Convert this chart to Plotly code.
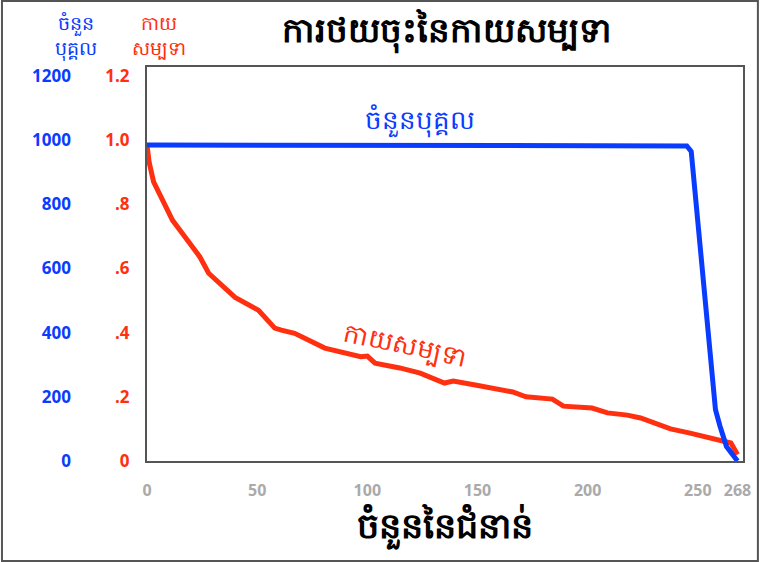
import plotly.graph_objects as go

# Data
pop_gen = [0, 242, 245, 247, 258, 260, 263, 268]
population = [985, 985, 982, 965, 160, 110, 45, 0]

fit_gen = [0, 1, 3, 7, 11.6, 16, 24, 28, 33, 40, 50.6, 56, 58, 61, 67, 80.7, 94, 97, 100, 103.5,
           114.7, 124, 135, 139, 149, 160, 166, 172, 184, 189, 202, 209, 218, 224, 237.6,
           246.5, 252, 258, 265, 268]
fitness = [0.985, 0.93, 0.87, 0.813, 0.75, 0.71, 0.636, 0.585, 0.555, 0.51, 0.47, 0.43, 0.414,
           0.408, 0.398, 0.352, 0.333, 0.325, 0.327, 0.305, 0.29, 0.274, 0.243, 0.249, 0.237,
           0.224, 0.215, 0.2, 0.193, 0.171, 0.165, 0.15, 0.143, 0.134, 0.1, 0.087, 0.078,
           0.065, 0.056, 0.02]

x_ticks = [0, 50, 100, 150, 200, 250, 268]
fit_ticks = [0, 0.2, 0.4, 0.6, 0.8, 1.0, 1.2]
fit_ticktext = ["0", ".2", ".4", ".6", ".8", "1.0", "1.2"]
pop_ticks = [0, 200, 400, 600, 800, 1000, 1200]

title = "ការថយចុះនៃកាយសម្បទា"
x_title = "ចំនួននៃជំនាន់"
pop_label = "ចំនួនបុគ្គល"
fit_label = "កាយសម្បទា"

BLUE = "#0a3cff"
RED = "#ff3010"
FONT = "Open Sans, Noto Sans, DejaVu Sans, sans-serif"

W, H = 763, 562
L, R, T, B = 147, 16, 67, 101
pw, ph = W - L - R, H - T - B

fig = go.Figure()
fig.add_trace(go.Scatter(x=fit_gen, y=fitness, mode="lines", line=dict(color=RED, width=5),
                         yaxis="y", showlegend=False, hoverinfo="skip"))
fig.add_trace(go.Scatter(x=pop_gen, y=population, mode="lines", line=dict(color=BLUE, width=5),
                         yaxis="y2", showlegend=False, hoverinfo="skip"))

fig.update_layout(
    width=W, height=H,
    margin=dict(l=L, r=R, t=T, b=B),
    paper_bgcolor="white", plot_bgcolor="white",
    font=dict(family=FONT),
    title=dict(text="<b>" + title + "</b>", x=447 / W, xanchor="center", y=1 - 30 / H,
               yanchor="middle", font=dict(size=34, color="black")),
    xaxis=dict(range=[0, 270.5], tickvals=x_ticks, showgrid=False, zeroline=False,
               showline=True, mirror=True, linecolor="#555", linewidth=2,
               ticks="", ticklabelstandoff=14,
               tickfont=dict(size=16, color="#aaaaaa", family=FONT, weight="bold"),
               title=dict(text="<b>" + x_title + "</b>", font=dict(size=35, color="black"),
                          standoff=2)),
    yaxis=dict(range=[0, 1.228], tickvals=fit_ticks, ticktext=fit_ticktext, showgrid=False,
               zeroline=False, showline=True, mirror=True, linecolor="#555", linewidth=2,
               ticks="", ticklabelstandoff=12,
               tickfont=dict(size=17, color=RED, family=FONT, weight="bold")),
    yaxis2=dict(range=[0, 1228], tickvals=pop_ticks, overlaying="y", side="left", anchor="x",
                showgrid=False, zeroline=False, showline=False, ticks="",
                ticklabelstandoff=75,
                tickfont=dict(size=17, color=BLUE, family=FONT, weight="bold")),
)

def px(xp):
    return (xp - L) / pw

def py(yp):
    return (H - B - yp) / ph

fig.add_annotation(x=px(52), y=py(8), xref="paper", yref="paper", showarrow=False,
                   text="ចំនួន<br>បុគ្គល", font=dict(size=19, color=BLUE), align="center")
fig.add_annotation(x=px(130), y=py(8), xref="paper", yref="paper", showarrow=False,
                   text="កាយ<br>សម្បទា", font=dict(size=19, color=RED), align="center")
fig.add_annotation(x=px(422), y=py(99), xref="paper", yref="paper", showarrow=False,
                   text=pop_label, font=dict(size=26, color=BLUE))
fig.add_annotation(x=px(407), y=py(377), xref="paper", yref="paper", showarrow=False,
                   text=fit_label, font=dict(size=26, color=RED), textangle=12)

# outer frame
fig.add_shape(type="rect", xref="paper", yref="paper",
              x0=px(1), x1=px(W - 1), y0=py(H - 1), y1=py(1),
              line=dict(color="#555", width=2), layer="below")

fig.write_html("out.html", config={"displayModeBar": False},
               post_script="document.body.style.margin='0';document.body.style.overflow='hidden';"
                           "document.documentElement.style.overflow='hidden';")
